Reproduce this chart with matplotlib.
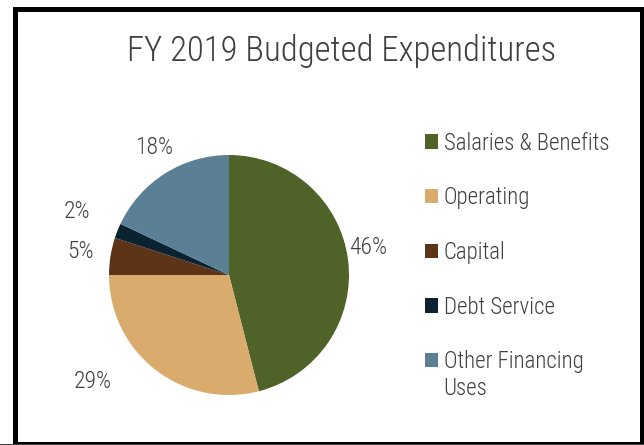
import matplotlib
matplotlib.use('Agg')
import matplotlib.pyplot as plt
import matplotlib.patches as mpatches
import numpy as np

plt.rcParams['font.family'] = ['Roboto Condensed', 'DejaVu Sans']
plt.rcParams['font.weight'] = 300

# expenditure categories and share of the budget (percent)
categories = ['Salaries & Benefits', 'Operating', 'Capital', 'Debt Service',
              'Other Financing\nUses']
shares = [46, 29, 5, 2, 18]
colors = ['#4f6228', '#d9ab6c', '#5e3418', '#0b2230', '#5b7f94']

# label placement: radial distance (in radii) and angle nudge (degrees)
label_dist = [1.18, 1.44, 1.25, 1.37, 1.23]
label_nudge = [4, -14, 0, -1, -2]

text_color = '#404040'

fig = plt.figure(figsize=(6.44, 4.45), dpi=100)
W, H = 644, 445

# pie axes: centre at (229, 275) px, radius 120 px
R = 120
cx, cy = 229, 275
half = 1.6 * R
ax = fig.add_axes([(cx - half) / W, (H - cy - half) / H, 2 * half / W, 2 * half / H])
wedges, _ = ax.pie(shares, colors=colors, startangle=90, counterclock=False,
                   radius=1.0, wedgeprops=dict(linewidth=0))
ax.set_xlim(-1.6, 1.6)
ax.set_ylim(-1.6, 1.6)
ax.set_aspect('equal')
ax.axis('off')

for w, s, d, n in zip(wedges, shares, label_dist, label_nudge):
    mid = np.deg2rad((w.theta1 + w.theta2) / 2 + n)
    ax.text(d * np.cos(mid), d * np.sin(mid), '%d%%' % s, ha='center', va='center',
            fontsize=17, color=text_color)

fig.text(342 / W, 1 - 51 / H, 'FY 2019 Budgeted Expenditures', ha='center',
         va='center', fontsize=25, color=text_color)

# legend keeps only the first line of each label so the swatch sits beside it;
# wrapped remainders are written underneath afterwards
first_lines = [c.split('\n')[0] for c in categories]
handles = [mpatches.Patch(facecolor=c, edgecolor='none') for c in colors]
leg = fig.legend(handles, first_lines, loc='upper left',
                 bbox_to_anchor=(404 / W, 1 - 111 / H), frameon=False,
                 fontsize=16.5, labelspacing=1.38, handlelength=0.58,
                 handleheight=0.58, handletextpad=0.25, labelcolor=text_color)

fig.canvas.draw()
for cat, t in zip(categories, leg.get_texts()):
    rest = cat.split('\n')[1:]
    if not rest:
        continue
    bb = t.get_window_extent()
    for i, line in enumerate(rest, start=1):
        fig.text(bb.x0 / W, (bb.y0 - 27 * i) / H, line, ha='left', va='bottom',
                 fontsize=16.5, color=text_color)

# chart frame
fig.patches.append(mpatches.Rectangle((14.5 / W, 1.5 / H), 627 / W, 435 / H,
                                      transform=fig.transFigure, fill=False,
                                      edgecolor='black', linewidth=3.6))
fig.patches.append(mpatches.Rectangle((0, 0), 1, 1.5 / H, transform=fig.transFigure,
                                      facecolor='#404040', edgecolor='none'))

fig.savefig('out.png', dpi=100)
